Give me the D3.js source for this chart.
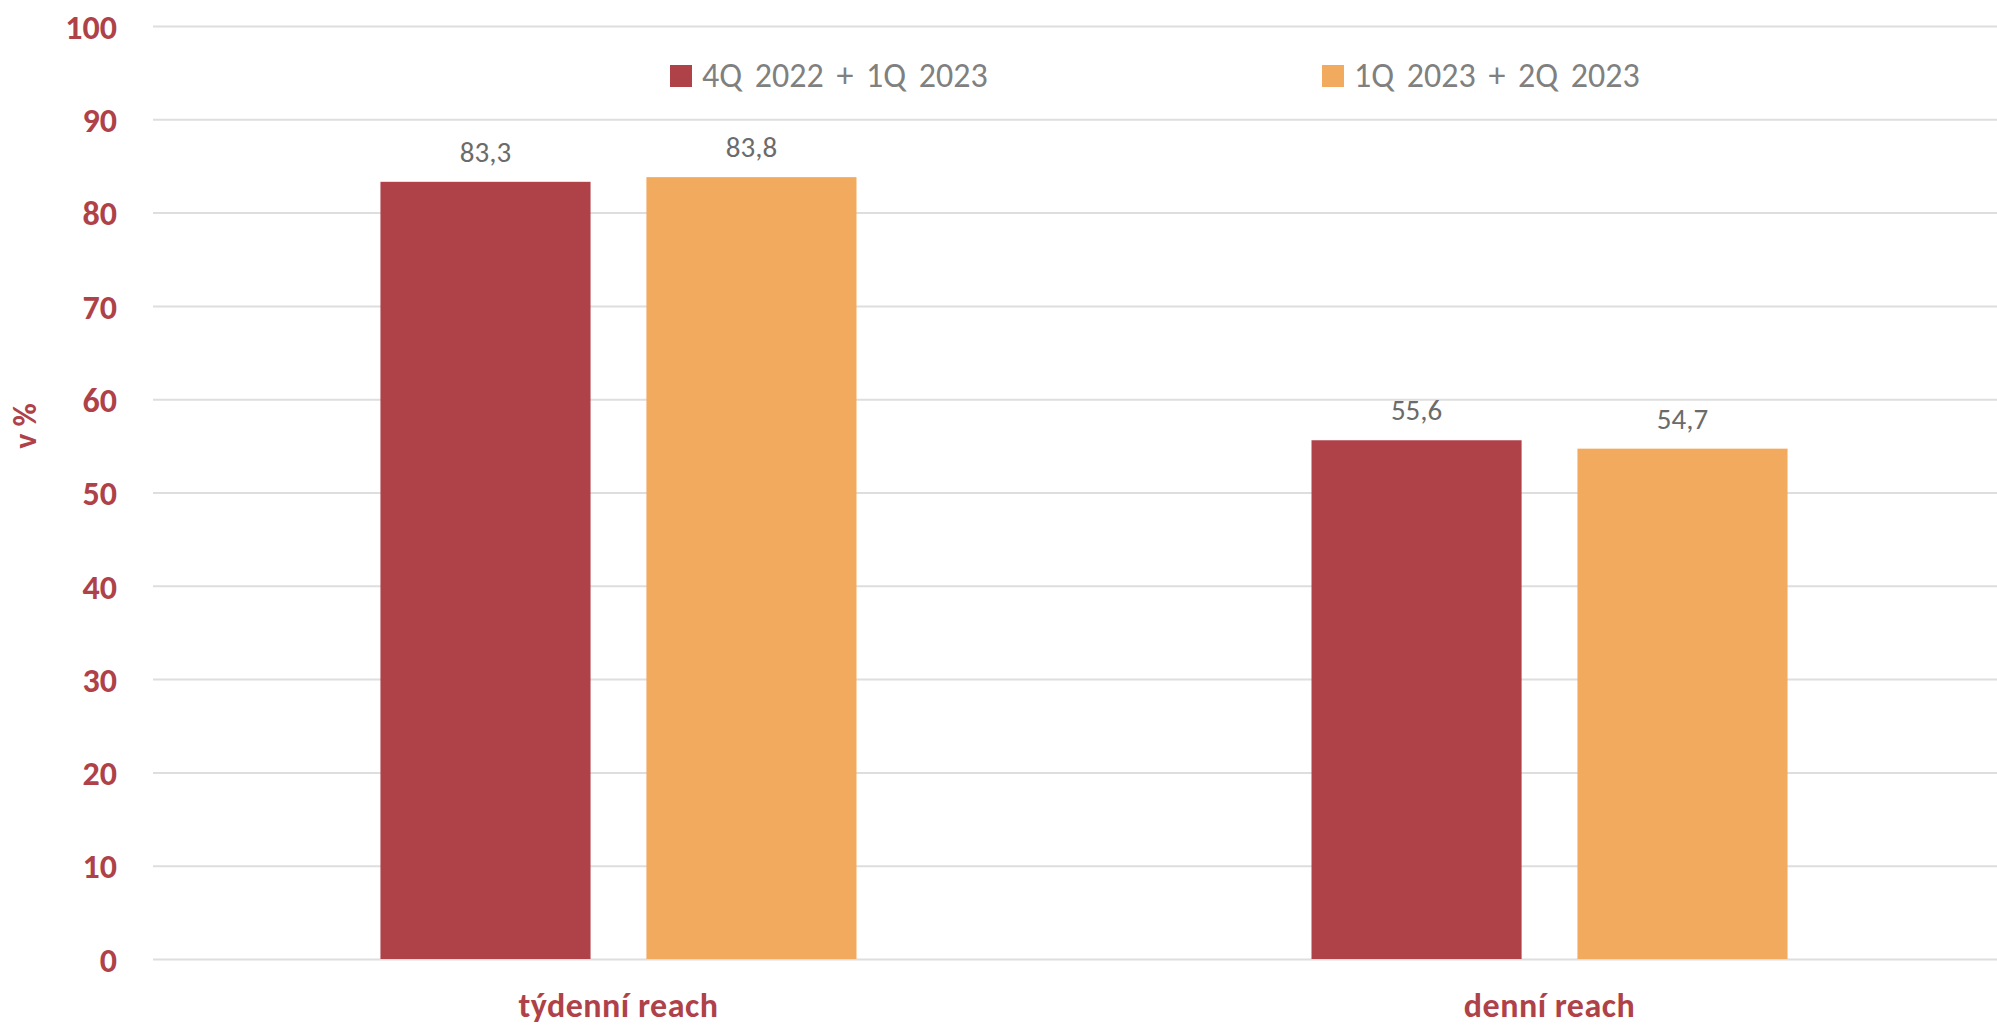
<!DOCTYPE html>
<html>
<head>
<meta charset="utf-8">
<script src="https://cdn.jsdelivr.net/npm/d3@7"></script>
<style>
  body { margin: 0; background: #fff; }
  svg { display: block; font-family: Carlito, Lato, "Open Sans", sans-serif; }
</style>
</head>
<body>
<div id="main"></div>
<script>
const categories = ['týdenní reach', 'denní reach'];
const seriesNames = ['4Q 2022 + 1Q 2023', '1Q 2023 + 2Q 2023'];
const seriesA = [83.3, 55.6];
const seriesB = [83.8, 54.7];
const yTicks = [0, 10, 20, 30, 40, 50, 60, 70, 80, 90, 100];
const colors = ['#af4249', '#f2ab5e'];

const width = 1997;
const height = 1026;
const plotLeft = 153, plotRight = 2015, plotTop = 26, plotBottom = 959;

const locale = d3.formatLocale({decimal: ',', thousands: ' ', grouping: [3], currency: ['', '']});
const fmt = locale.format('.1f');

const rows = categories.map((c, i) => ({category: c, values: [seriesA[i], seriesB[i]]}));

const svg = d3.select('#main')
    .append('svg')
    .attr('width', width)
    .attr('height', height);

const x0 = d3.scaleBand()
    .domain(categories)
    .range([plotLeft, plotRight])
    .paddingInner(0.4887)
    .paddingOuter(0.2443);

const x1 = d3.scaleBand()
    .domain(d3.range(seriesNames.length))
    .range([0, x0.bandwidth()])
    .paddingInner(0.21);

const y = d3.scaleLinear()
    .domain([0, 100])
    .range([plotBottom, plotTop]);

// gridlines + tick labels
const yAxis = svg.append('g')
    .attr('transform', `translate(${plotLeft},0)`)
    .call(d3.axisLeft(y).tickValues(yTicks).tickSize(-(plotRight - plotLeft)).tickPadding(36))
yAxis.select('.domain').remove();
yAxis.selectAll('.tick line').attr('stroke', '#dedede').attr('stroke-width', 2);
yAxis.selectAll('.tick text')
    .attr('fill', '#af4249')
    .style('font-size', '34px')
    .style('font-weight', 'bold')
    .style('font-family', 'Carlito, Lato, sans-serif')
    .attr('dy', '0.36em');

// bars
const group = svg.selectAll('g.group')
    .data(rows)
    .enter()
    .append('g')
    .attr('class', 'group')
    .attr('transform', (d) => `translate(${x0(d.category)},0)`);

group.selectAll('rect')
    .data((d) => d.values)
    .enter()
    .append('rect')
    .attr('x', (d, i) => x1(i))
    .attr('y', (d) => y(d))
    .attr('width', x1.bandwidth())
    .attr('height', (d) => y(0) - y(d))
    .attr('fill', (d, i) => colors[i]);

group.selectAll('text')
    .data((d) => d.values)
    .enter()
    .append('text')
    .attr('x', (d, i) => x1(i) + x1.bandwidth() / 2)
    .attr('y', (d) => y(d) - 20)
    .attr('text-anchor', 'middle')
    .attr('fill', '#6b6b6b')
    .style('font-size', '29px')
    .text((d) => fmt(d));

// category labels
svg.append('g')
    .selectAll('text')
    .data(categories)
    .enter()
    .append('text')
    .attr('x', (d) => x0(d) + x0.bandwidth() / 2)
    .attr('y', 1017)
    .attr('text-anchor', 'middle')
    .attr('fill', '#af4249')
    .style('font-size', '34px')
    .style('font-weight', 'bold')
    .style('letter-spacing', '0.5px')
    .text((d) => d);

// y title
svg.append('text')
    .attr('transform', 'translate(36,426) rotate(-90)')
    .attr('text-anchor', 'middle')
    .attr('fill', '#af4249')
    .style('font-size', '32px')
    .style('font-weight', 'bold')
    .text('v %');

// legend
const legendX = [670, 1322];
const legend = svg.append('g').attr('id', 'legend');
const item = legend.selectAll('g')
    .data(seriesNames)
    .enter()
    .append('g')
    .attr('transform', (d, i) => `translate(${legendX[i]},65)`);
item.append('rect')
    .attr('width', 22)
    .attr('height', 22)
    .attr('fill', (d, i) => colors[i]);
item.append('text')
    .attr('x', 32)
    .attr('y', 22)
    .attr('fill', '#808080')
    .style('font-size', '34px')
    .style('word-spacing', '5px')
    .text((d) => d);
</script>
</body>
</html>
